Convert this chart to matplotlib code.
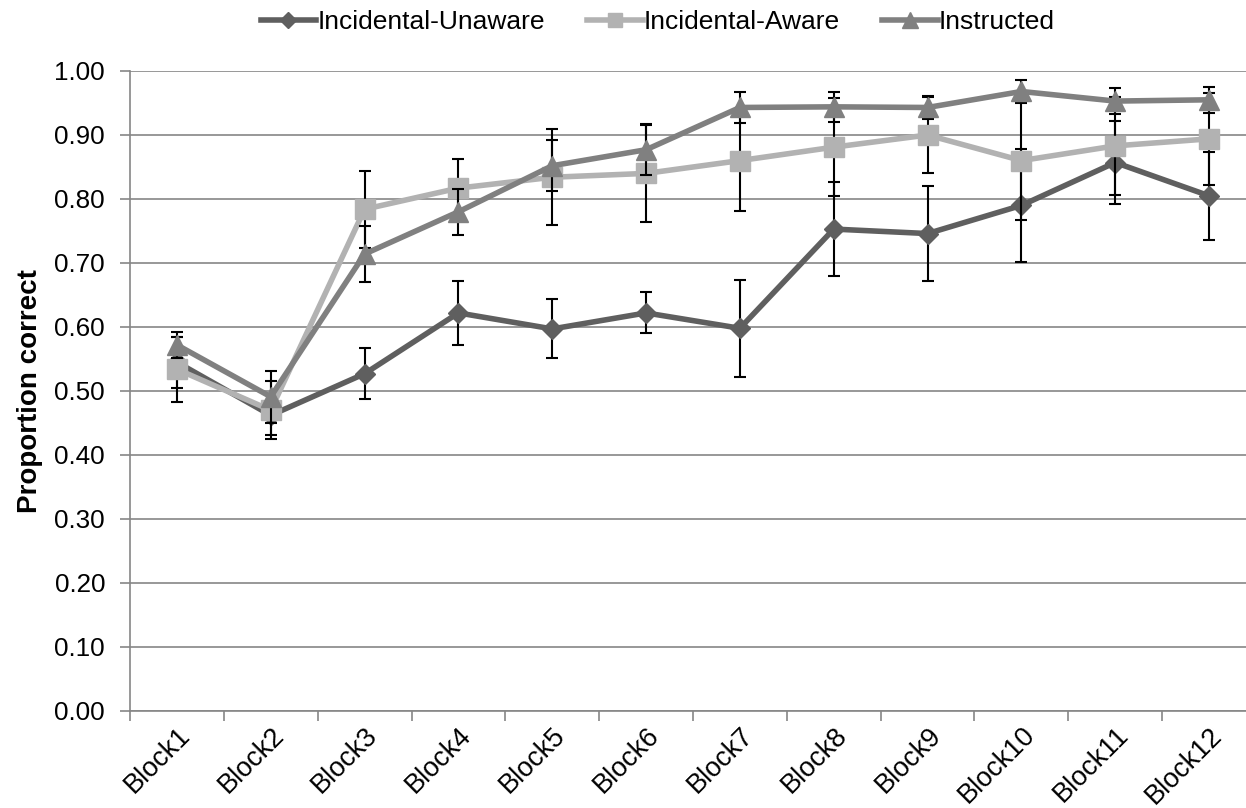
import matplotlib
matplotlib.use('Agg')
import matplotlib.pyplot as plt
import matplotlib.transforms as mtransforms
import numpy as np

plt.rcParams['font.family'] = ['Liberation Sans', 'DejaVu Sans']

# Data
blocks = ['Block1', 'Block2', 'Block3', 'Block4', 'Block5', 'Block6',
          'Block7', 'Block8', 'Block9', 'Block10', 'Block11', 'Block12']

unaware = [0.545, 0.462, 0.527, 0.622, 0.597, 0.622, 0.598, 0.753, 0.746, 0.790, 0.857, 0.805]
unaware_err = [0.040, 0.031, 0.040, 0.050, 0.046, 0.032, 0.076, 0.073, 0.074, 0.088, 0.065, 0.069]

aware = [0.534, 0.470, 0.784, 0.817, 0.834, 0.840, 0.860, 0.881, 0.900, 0.860, 0.883, 0.894]
aware_err = [0.051, 0.045, 0.060, 0.045, 0.075, 0.076, 0.078, 0.077, 0.060, 0.093, 0.077, 0.072]

instructed = [0.572, 0.491, 0.714, 0.780, 0.852, 0.877, 0.943, 0.944, 0.943, 0.968, 0.953, 0.955]
instructed_err = [0.020, 0.041, 0.044, 0.036, 0.040, 0.040, 0.024, 0.023, 0.018, 0.018, 0.020, 0.020]

series = [
    ('Incidental-Unaware', unaware, unaware_err, '#5f5f5f', 'D', 10.5),
    ('Incidental-Aware', aware, aware_err, '#b2b2b2', 's', 14),
    ('Instructed', instructed, instructed_err, '#808080', '^', 15),
]

fig = plt.figure(figsize=(12.46, 8.08), dpi=100)
# plot area runs slightly past the right edge, as in the reference
ax = fig.add_axes([130 / 1246, 97 / 808, 1126 / 1246, 640 / 808])

x = np.arange(len(blocks))
grid_color = '#868686'

for i, (name, vals, errs, color, marker, ms) in enumerate(series):
    ax.errorbar(x, vals, yerr=errs, fmt='none', ecolor='black',
                elinewidth=1.5, capsize=4.5, capthick=1.5, zorder=3 + i * 2)
    ax.plot(x, vals, color=color, linewidth=4, marker=marker, markersize=ms,
            markeredgecolor=color, label=name, zorder=4 + i * 2)

ax.set_xlim(-0.5, len(blocks) - 0.5)
ax.set_ylim(0, 1.0)
ax.set_yticks(np.arange(0, 1.01, 0.1))
ax.set_yticklabels([f'{v:.2f}' for v in np.arange(0, 1.01, 0.1)], fontsize=18.7)
ax.yaxis.grid(True, color=grid_color, linewidth=1.2)
ax.set_axisbelow(True)

# category ticks sit between blocks, labels at block centres
ax.set_xticks(np.arange(-0.5, len(blocks)), minor=False)
ax.set_xticklabels([])
ax.set_xticks(x, minor=True)
ax.set_xticklabels(blocks, minor=True, rotation=45, ha='right', va='top',
                   rotation_mode='anchor', fontsize=19.5)
shift = mtransforms.ScaledTranslation(-6 / 100, 0, fig.dpi_scale_trans)
for lbl in ax.get_xticklabels(minor=True):
    lbl.set_transform(lbl.get_transform() + shift)
ax.tick_params(axis='x', which='minor', length=0, pad=8)
ax.tick_params(axis='x', which='major', length=7, width=1.2, color=grid_color, direction='out')
ax.tick_params(axis='y', length=7, width=1.2, color=grid_color, pad=11)

for side in ['top', 'right']:
    ax.spines[side].set_visible(False)
for side in ['left', 'bottom']:
    ax.spines[side].set_color(grid_color)
    ax.spines[side].set_linewidth(1.2)

ax.set_ylabel('Proportion correct', fontsize=20, fontweight='bold', labelpad=8)

fig.legend(loc='upper center', bbox_to_anchor=(0.528, 1.017), ncol=3, frameon=False,
           fontsize=19, handlelength=2.1, handletextpad=0.05, columnspacing=1.6,
           markerscale=0.75)

fig.savefig('out.png', dpi=100)
